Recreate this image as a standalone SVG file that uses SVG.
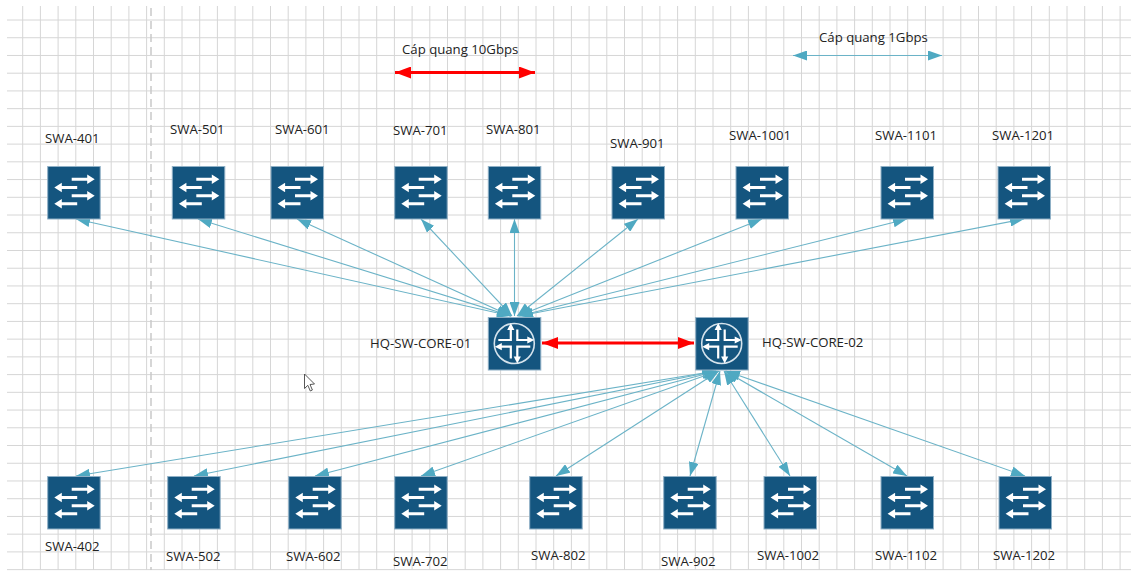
<svg xmlns="http://www.w3.org/2000/svg" width="1141" height="572" viewBox="0 0 1141 572">
<style>
.t{font-family:"Open Sans","Noto Sans","Liberation Sans",sans-serif;font-size:13.2px;fill:#222}
.c{fill:none;stroke:#6bb3c7;stroke-width:1.1;marker-start:url(#a);marker-end:url(#a)}
.r{fill:none;stroke:#f00;stroke-width:3;marker-start:url(#b);marker-end:url(#b)}
.box{fill:#14557f;stroke:#8fb0c6;stroke-width:1}
</style>
<defs>
<marker id="a" viewBox="0 0 14 10" refX="14" refY="5" markerWidth="14" markerHeight="10" markerUnits="userSpaceOnUse" orient="auto-start-reverse"><path d="M0 0L14 5L0 10Z" fill="#4fa9c2"/></marker>
<marker id="b" viewBox="0 0 16 12" refX="16" refY="6" markerWidth="16" markerHeight="12" markerUnits="userSpaceOnUse" orient="auto-start-reverse"><path d="M0 0L16 6L0 12Z" fill="#f00"/></marker>
<symbol id="sw" width="53" height="53" viewBox="0 0 53 53" overflow="visible">
<rect class="box" x="0" y="0" width="52.5" height="52.5"/>
<path fill="#fff" d="M24 11.200H39.500V8L47 12.700L39.500 17.400V14.200H24ZM29.500 19.500H14.100V16.300L6.600 21L14.100 25.700V22.500H29.500ZM24 27.800H39.500V24.600L47 29.300L39.500 34V30.800H24ZM29.500 35.800H14.100V32.600L6.600 37.300L14.100 42V38.800H29.500Z"/>
</symbol>
<symbol id="rt" width="53" height="53" viewBox="0 0 53 53" overflow="visible">
<rect class="box" x="0" y="0" width="52.500" height="52.500"/>
<circle cx="26" cy="26" r="20" fill="none" stroke="#d5e3ec" stroke-width="1.6"/>
<path fill="none" stroke="#fff" stroke-width="2.200" d="M10 22.500H22.500V12M29 12V22.500H40M42 29.200H29V40M12 29.200H22.500V41"/>
<path fill="#fff" d="M22.500 5.500L18.900 12.500H26.100ZM46 22.500L39 18.900V26.100ZM6.500 29.200L13.500 25.600V32.800ZM29 46L25.400 39H32.600Z"/>
</symbol>
</defs>
<rect width="1141" height="572" fill="#fff"/>
<path id="grid" fill="none" stroke="#d6d6d6" stroke-width="1" d="M22.700 6V570M40.400 6V570M58.100 6V570M75.800 6V570M93.500 6V570M111.200 6V570M128.900 6V570M146.600 6V570M164.300 6V570M182 6V570M199.700 6V570M217.400 6V570M235.100 6V570M252.800 6V570M270.500 6V570M288.200 6V570M305.900 6V570M323.600 6V570M341.300 6V570M359 6V570M376.700 6V570M394.400 6V570M412.100 6V570M429.800 6V570M447.500 6V570M465.200 6V570M482.900 6V570M500.600 6V570M518.300 6V570M536 6V570M553.700 6V570M571.400 6V570M589.100 6V570M606.800 6V570M624.500 6V570M642.200 6V570M659.900 6V570M677.600 6V570M695.300 6V570M713 6V570M730.700 6V570M748.400 6V570M766.100 6V570M783.800 6V570M801.500 6V570M819.200 6V570M836.900 6V570M854.600 6V570M872.300 6V570M890 6V570M907.700 6V570M925.400 6V570M943.100 6V570M960.800 6V570M978.500 6V570M996.200 6V570M1013.900 6V570M1031.600 6V570M1049.300 6V570M1067 6V570M1084.700 6V570M1102.400 6V570M1120.100 6V570M7 20H1131M7 37.730H1131M7 55.460H1131M7 73.190H1131M7 90.920H1131M7 108.650H1131M7 126.380H1131M7 144.110H1131M7 161.840H1131M7 179.570H1131M7 197.300H1131M7 215.030H1131M7 232.760H1131M7 250.490H1131M7 268.220H1131M7 285.950H1131M7 303.680H1131M7 321.410H1131M7 339.140H1131M7 356.870H1131M7 374.600H1131M7 392.330H1131M7 410.060H1131M7 427.790H1131M7 445.520H1131M7 463.250H1131M7 480.980H1131M7 498.710H1131M7 516.440H1131M7 534.170H1131M7 551.900H1131M7 569.630H1131"/>
<path d="M151 8V570" fill="none" stroke="#c9c9c9" stroke-width="1.5" stroke-dasharray="8 5"/>
<g id="connectors">
<path class="c" d="M511 316L76 219"/>
<path class="c" d="M511 316L198 219"/>
<path class="c" d="M511 316L297 219"/>
<path class="c" d="M512 316L421 219"/>
<path class="c" d="M514.500 316V219"/>
<path class="c" d="M517 316L638 219"/>
<path class="c" d="M518 316L762 219"/>
<path class="c" d="M519 316L907 219"/>
<path class="c" d="M519 316L1024 219"/>
<path class="c" d="M716 371L76 476"/>
<path class="c" d="M716 371L194 476"/>
<path class="c" d="M717 371L315 476"/>
<path class="c" d="M718 371L421 476"/>
<path class="c" d="M719 371L556 476"/>
<path class="c" d="M720 371L690 476"/>
<path class="c" d="M724 371L790 476"/>
<path class="c" d="M725 371L907 476"/>
<path class="c" d="M726 371L1025 476"/>
<path class="c" d="M793 55.500H942"/>
<path class="r" d="M542 343H694"/>
<path class="r" d="M395 72.500H535"/>
</g>
<g id="swa-401"><use href="#sw" x="47.700" y="166.500"/><text class="t" x="45" y="143">SWA-401</text></g>
<g id="swa-501"><use href="#sw" x="172.300" y="166.500"/><text class="t" x="170" y="134">SWA-501</text></g>
<g id="swa-601"><use href="#sw" x="271" y="166.500"/><text class="t" x="275" y="134">SWA-601</text></g>
<g id="swa-701"><use href="#sw" x="394.700" y="166.500"/><text class="t" x="393" y="135">SWA-701</text></g>
<g id="swa-801"><use href="#sw" x="488.300" y="166.500"/><text class="t" x="486" y="134">SWA-801</text></g>
<g id="swa-901"><use href="#sw" x="612" y="166.500"/><text class="t" x="610" y="148">SWA-901</text></g>
<g id="swa-1001"><use href="#sw" x="736" y="166.500"/><text class="t" x="729" y="140">SWA-1001</text></g>
<g id="swa-1101"><use href="#sw" x="881" y="166.500"/><text class="t" x="875" y="140">SWA-1101</text></g>
<g id="swa-1201"><use href="#sw" x="998" y="166.500"/><text class="t" x="992" y="140">SWA-1201</text></g>
<g id="hq-sw-core-01"><use href="#rt" x="488.300" y="317.500"/><text class="t" x="370" y="348">HQ-SW-CORE-01</text></g>
<g id="hq-sw-core-02"><use href="#rt" x="695.700" y="317.500"/><text class="t" x="762" y="347">HQ-SW-CORE-02</text></g>
<g id="swa-402"><use href="#sw" x="47.700" y="476.500"/><text class="t" x="45" y="551">SWA-402</text></g>
<g id="swa-502"><use href="#sw" x="167.700" y="476.500"/><text class="t" x="166" y="561">SWA-502</text></g>
<g id="swa-602"><use href="#sw" x="288.700" y="476.500"/><text class="t" x="286" y="561">SWA-602</text></g>
<g id="swa-702"><use href="#sw" x="394.700" y="476.500"/><text class="t" x="393" y="566">SWA-702</text></g>
<g id="swa-802"><use href="#sw" x="529.700" y="476.500"/><text class="t" x="531" y="560">SWA-802</text></g>
<g id="swa-902"><use href="#sw" x="663.700" y="476.500"/><text class="t" x="661" y="566">SWA-902</text></g>
<g id="swa-1002"><use href="#sw" x="764" y="476.500"/><text class="t" x="757" y="560">SWA-1002</text></g>
<g id="swa-1102"><use href="#sw" x="881" y="476.500"/><text class="t" x="875" y="560">SWA-1102</text></g>
<g id="swa-1202"><use href="#sw" x="999" y="476.500"/><text class="t" x="993" y="560">SWA-1202</text></g>
<text class="t" x="402" y="54">Cáp quang 10Gbps</text>
<text class="t" x="819" y="42">Cáp quang 1Gbps</text>
<path d="M304.500 374V388.500L307.800 385.300L310.300 391L312.400 390L310 384.500L314.500 384Z" fill="#fff" stroke="#444" stroke-width="0.9"/>
</svg>
